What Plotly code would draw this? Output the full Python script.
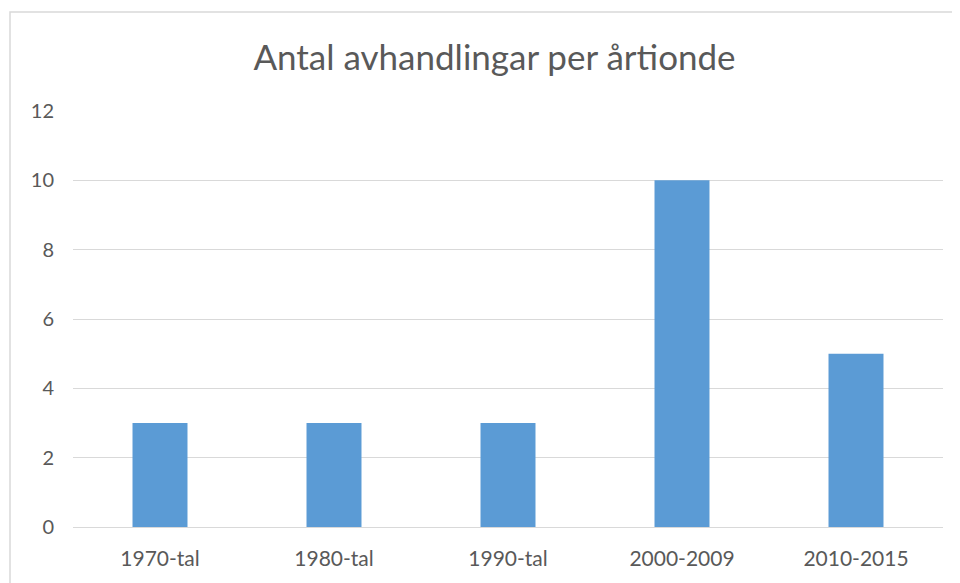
import plotly.graph_objects as go

categories = ["1970-tal", "1980-tal", "1990-tal", "2000-2009", "2010-2015"]
values = [3, 3, 3, 10, 5]
y_ticks = [0, 2, 4, 6, 8, 10, 12]

# the page body adds an 8px offset; figure coordinates are reference pixels minus 8
OFF = 8
W, H = 960 - OFF, 583 - OFF
L, T = 73 - OFF, 111 - OFF
R = W - (943 - OFF)
B = H - (527 - OFF)
pw, ph = W - L - R, H - T - B

fig = go.Figure(go.Bar(x=categories, y=values, marker_color="#5B9BD5", marker_line_width=0))

fig.update_layout(
    width=W, height=H,
    margin=dict(l=L, r=R, t=T, b=B),
    paper_bgcolor="white", plot_bgcolor="white",
    bargap=0.684,
    showlegend=False,
    font=dict(family="Lato", color="#595959"),
    title=dict(text="Antal avhandlingar per årtionde", x=(494.5 - OFF) / W, xanchor="center",
               y=1 - (58 - OFF) / H, yanchor="middle",
               font=dict(size=35, color="#595959", family="Lato")),
)
fig.update_yaxes(range=[0, 12], tickvals=y_ticks, showgrid=True, gridcolor="#D9D9D9",
                 gridwidth=1, zeroline=False, showline=False,
                 tickfont=dict(size=20, color="#595959"), ticklabelstandoff=18)
fig.update_xaxes(showline=True, linecolor="#D9D9D9", linewidth=1,
                 tickfont=dict(size=21, color="#595959"), ticklabelstandoff=13)

# outer chart border (partly outside the visible window, as in the reference)
fig.add_shape(type="rect", xref="paper", yref="paper",
              x0=(10 - OFF - L) / pw, x1=(W + 20 - L) / pw,
              y0=(H - B - (H + 20)) / ph, y1=(H - B - (12 - OFF)) / ph,
              line=dict(color="#D9D9D9", width=1.5), layer="below")

fig.write_html("out.html")
